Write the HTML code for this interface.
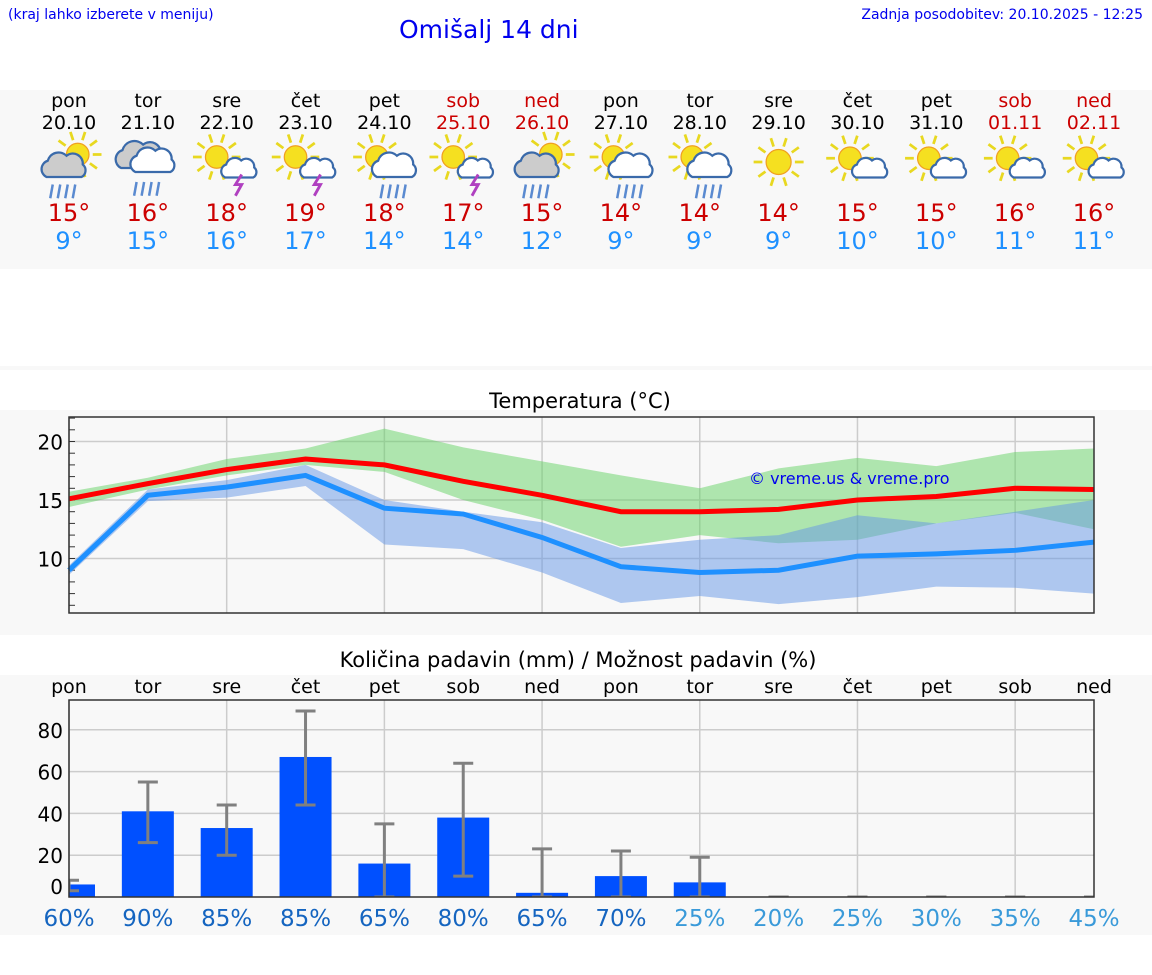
<!DOCTYPE html>
<html><head><meta charset="utf-8">
<style>
body{margin:0;width:1152px;height:975px;background:#fff;font-family:"DejaVu Sans","Liberation Sans",sans-serif;overflow:hidden;position:relative}
.abs{position:absolute}
.panel{position:absolute;left:0;width:1152px;background:#f8f8f8}
</style></head><body>
<div class="abs" style="left:8px;top:7px;font-size:14px;color:#0000ee">(kraj lahko izberete v meniju)</div>
<div class="abs" style="left:399px;top:15px;font-size:25px;color:#0000ee">Omišalj 14 dni</div>
<div class="abs" style="right:9px;top:7px;font-size:14px;color:#0000ee">Zadnja posodobitev: 20.10.2025 - 12:25</div>
<div class="panel" style="top:90px;height:179px"></div>
<div class="panel" style="top:366px;height:4px"></div>
<div class="panel" style="top:410px;height:225px"></div>
<div class="panel" style="top:675px;height:260px"></div>
<svg id="s" class="abs" style="left:0;top:0" width="1152" height="975"></svg>
<script>
const days=["pon","tor","sre","čet","pet","sob","ned","pon","tor","sre","čet","pet","sob","ned"];
const dates=["20.10","21.10","22.10","23.10","24.10","25.10","26.10","27.10","28.10","29.10","30.10","31.10","01.11","02.11"];
const icons=["scr","cr","sl","sl","sr","sl","sgr","sr","sr","s","sc","sc","sc","sc"];
const hiT=[15,16,18,19,18,17,15,14,14,14,15,15,16,16];
const loT=[9,15,16,17,14,14,12,9,9,9,10,10,11,11];
const tMax=[15.1,16.4,17.6,18.5,18.0,16.6,15.4,14.0,14.0,14.2,15.0,15.3,16.0,15.9];
const tMin=[9.0,15.4,16.1,17.1,14.3,13.8,11.8,9.3,8.8,9.0,10.2,10.4,10.7,11.4];
const maxHi=[15.7,16.9,18.5,19.4,21.1,19.5,18.3,17.1,16.0,17.7,18.6,17.9,19.1,19.4];
const maxLo=[14.4,15.9,17.1,18.0,17.4,15.0,13.3,11.0,12.0,11.3,11.6,13.0,13.9,12.5];
const minHi=[9.4,15.9,16.7,18.0,15.0,14.0,13.1,10.9,11.6,12.0,13.7,13.0,14.0,15.0];
const minLo=[8.6,14.9,15.2,16.2,11.2,10.8,8.8,6.2,6.8,6.1,6.7,7.6,7.5,7.0];
const rain=[6,41,33,67,16,38,2,10,7,0,0,0,0,0];
const rainLo=[3,26,20,44,0,10,0,0,0,0,0,0,0,0];
const rainHi=[8,55,44,89,35,64,23,22,19,0,0,0,0,0];
const prob=[60,90,85,85,65,80,65,70,25,20,25,30,35,45];
const tTicks=[10,15,20];
const rTicks=[0,20,40,60,80];
const NS="http://www.w3.org/2000/svg";
const s=document.getElementById('s');
function el(t,a,p){const e=document.createElementNS(NS,t);for(const k in a)e.setAttribute(k,a[k]);(p||s).appendChild(e);return e;}
const X0=69,X1=1094;
const xd=i=>X0+i*(X1-X0)/13;
const yT=v=>500-(v-15)*11.7;
const yR=v=>897-v*2.09;
const wk=i=>days[i]==="sob"||days[i]==="ned";
for(let i=0;i<14;i++){
 const c=wk(i)?"#cc0000":"#000";
 let t=el('text',{x:xd(i),y:107,'text-anchor':'middle','font-size':19,fill:c});t.textContent=days[i];
 
 t=el('text',{x:xd(i),y:129,'text-anchor':'middle','font-size':19,fill:c});t.textContent=dates[i];
 
 t=el('text',{x:xd(i),y:221,'text-anchor':'middle','font-size':24,fill:"#cc0000"});t.textContent=hiT[i]+"°";
 
 t=el('text',{x:xd(i),y:249,'text-anchor':'middle','font-size':24,fill:"#1e90ff"});t.textContent=loT[i]+"°";
 
 const g=el('g',{transform:`translate(${xd(i)},167) scale(1.25)`});
 
 drawIcon(g,icons[i]);
}
function sun(g,cx,cy,r){
 for(let k=0;k<10;k++){const a=k*Math.PI/5;el('line',{x1:cx+Math.cos(a)*(r+3),y1:cy+Math.sin(a)*(r+3),x2:cx+Math.cos(a)*(r+10),y2:cy+Math.sin(a)*(r+10),stroke:"#e8d820",'stroke-width':2.2},g);}
 el('circle',{cx:cx,cy:cy,r:r,fill:"#f5e020",stroke:"#f0a020",'stroke-width':1},g);
}
function cloud(g,cx,cy,sc,fill){
 el('path',{d:`M${cx-14*sc},${cy+8*sc} a7,7 0 0 1 1,-13 a9,9 0 0 1 15,-4 a8,8 0 0 1 13,7 a6,6 0 0 1 -1,10 z`.replace(/a(\d+),(\d+) /g,(m,a,b)=>`a${a*sc},${b*sc} `).replace(/ 1 (-?\d+),(-?\d+)/g,(m,a,b)=>` 1 ${a*sc},${b*sc}`),fill:fill,stroke:"#3a6aaa",'stroke-width':1.8},g);
}
function rainL(g,cx,cy){for(let k=0;k<4;k++)el('line',{x1:cx-9+k*6,y1:cy,x2:cx-11+k*6,y2:cy+11,stroke:"#5a8ad0",'stroke-width':2},g);}
function bolt(g,cx,cy){el('path',{d:`M${cx+2},${cy} l-5,8 h5 l-5,9`,fill:"none",stroke:"#b040c0",'stroke-width':2.3},g);}
function drawIcon(g,t){
 if(t==="s"){sun(g,0,-4,10);return;}
 if(t==="cr"){cloud(g,-6,-8,1.1,"#ccc");cloud(g,4,-4,1,"#fff");rainL(g,0,12);return;}
 if(t==="scr"||t==="sgr"){sun(g,7,-10,9);cloud(g,-4,0,1,"#ccc");rainL(g,-4,14);return;}
 if(t==="sr"){sun(g,-6,-8,9);cloud(g,8,0,1,"#fff");rainL(g,8,14);return;}
 if(t==="sl"){sun(g,-8,-8,9);cloud(g,10,2,0.8,"#fff");bolt(g,10,6);return;}
 if(t==="sc"){sun(g,-6,-7,9);cloud(g,10,2,0.8,"#fff");return;}
}
el('text',{x:580,y:408,'text-anchor':'middle','font-size':21,fill:"#000"}).textContent="Temperatura (°C)";
el('rect',{x:X0,y:417,width:X1-X0,height:196,fill:"#f8f8f8"});
for(let i=0;i<14;i+=2){el('line',{x1:xd(i),y1:417,x2:xd(i),y2:613,stroke:"#ccc",'stroke-width':1.5});}
for(const v of tTicks){el('line',{x1:X0,y1:yT(v),x2:X1,y2:yT(v),stroke:"#ccc",'stroke-width':1.5});
 const t=el('text',{x:63,y:yT(v)+8,'text-anchor':'end','font-size':20,fill:"#000"});t.textContent=v;
 }
for(let v=6;v<=22;v++){el('line',{x1:X0,y1:yT(v),x2:X0+6,y2:yT(v),stroke:"#333",'stroke-width':1});}
function band(a,b,fill,name){let d="M"+a.map((v,i)=>xd(i)+","+yT(v)).join(" L")+" L"+b.map((v,i)=>xd(i)+","+yT(v)).reverse().join(" L")+"Z";
 const p=el('path',{d:d,fill:fill});}
band(maxHi,maxLo,"rgba(100,210,100,0.5)","max-range-band");
band(minHi,minLo,"rgba(100,150,230,0.5)","min-range-band");
function line(a,c,name){const p=el('polyline',{points:a.map((v,i)=>xd(i)+","+yT(v)).join(" "),fill:"none",stroke:c,'stroke-width':5});
 }
line(tMax,"#ff0000","max-temp-line");line(tMin,"#1e90ff","min-temp-line");
el('rect',{x:X0,y:417,width:X1-X0,height:196,fill:"none",stroke:"#333",'stroke-width':1.5});
el('text',{x:749,y:484,'font-size':16,fill:"#0000ee"}).textContent="© vreme.us & vreme.pro";
el('text',{x:578,y:667,'text-anchor':'middle','font-size':21,fill:"#000"}).textContent="Količina padavin (mm) / Možnost padavin (%)";
for(let i=0;i<14;i++){const t=el('text',{x:xd(i),y:693,'text-anchor':'middle','font-size':19,fill:"#000"});t.textContent=days[i];
 }
el('rect',{x:X0,y:700,width:X1-X0,height:197,fill:"#f8f8f8"});
for(let i=0;i<14;i+=2){el('line',{x1:xd(i),y1:700,x2:xd(i),y2:897,stroke:"#ccc",'stroke-width':1.5});}
for(const v of rTicks){if(v>0)el('line',{x1:X0,y1:yR(v),x2:X1,y2:yR(v),stroke:"#ccc",'stroke-width':1.5});
 const t=el('text',{x:63,y:(v===0?yR(v)-11:yR(v))+8,'text-anchor':'end','font-size':20,fill:"#000"});t.textContent=v;
 }
const clip=el('clipPath',{id:'pc'});el('rect',{x:X0,y:700,width:X1-X0,height:197},clip);
const bg=el('g',{'clip-path':'url(#pc)'});
for(let i=0;i<14;i++){
 const r=el('rect',{x:xd(i)-26,y:yR(rain[i]),width:52,height:yR(0)-yR(rain[i]),fill:"#0050ff"},bg);
 
 const e=el('g',{},bg);
 el('line',{x1:xd(i),y1:yR(rainLo[i]),x2:xd(i),y2:yR(rainHi[i]),stroke:"#808080",'stroke-width':3},e);
 el('line',{x1:xd(i)-10,y1:yR(rainHi[i]),x2:xd(i)+10,y2:yR(rainHi[i]),stroke:"#808080",'stroke-width':3},e);
 el('line',{x1:xd(i)-10,y1:yR(rainLo[i]),x2:xd(i)+10,y2:yR(rainLo[i]),stroke:"#808080",'stroke-width':3},e);
}
el('rect',{x:X0,y:700,width:X1-X0,height:197,fill:"none",stroke:"#333",'stroke-width':1.5});
for(let i=0;i<14;i++){const t=el('text',{x:xd(i),y:926,'text-anchor':'middle','font-size':23,fill:prob[i]>=60?"#1565c0":"#3a9ad9"});t.textContent=prob[i]+"%";
 }
</script>
</body></html>
